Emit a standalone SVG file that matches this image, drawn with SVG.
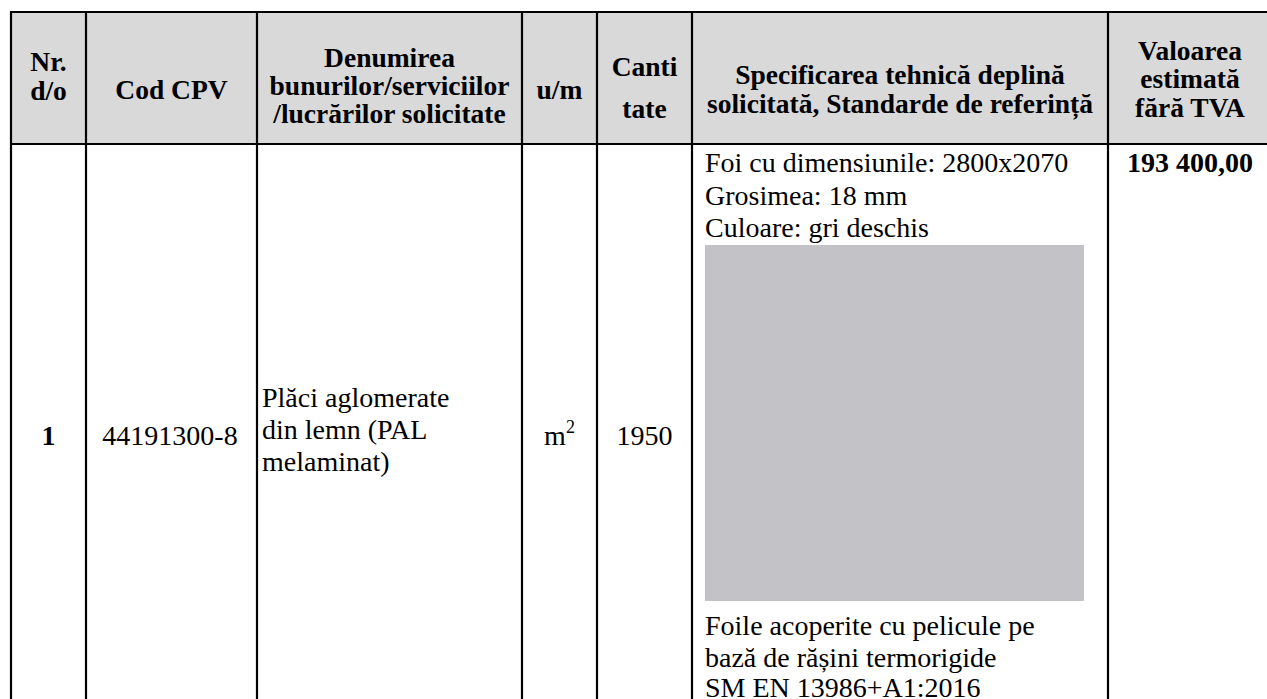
<svg xmlns="http://www.w3.org/2000/svg" width="1267" height="699" viewBox="0 0 1267 699">
<style>
text{font-family:"Liberation Serif","Times New Roman",serif;fill:#000}
.h{font-size:27.5px;font-weight:bold;text-anchor:middle}
.b{font-size:28px}
.c{text-anchor:middle}
.bold{font-weight:bold}
.grid line{stroke:#000;stroke-width:2.2}
</style>
<rect x="0" y="0" width="1267" height="699" fill="#fff"/>
<rect id="header-bg" x="11" y="12" width="1256" height="132" fill="#d9d9d9"/>
<rect id="swatch" x="705" y="245" width="379" height="356" fill="#c3c2c7"/>
<g id="grid" class="grid">
<line x1="11" y1="12" x2="1267" y2="12"/>
<line x1="11" y1="144" x2="1267" y2="144"/>
<line x1="11" y1="11" x2="11" y2="699"/>
<line x1="86" y1="11" x2="86" y2="699"/>
<line x1="257" y1="11" x2="257" y2="699"/>
<line x1="522" y1="11" x2="522" y2="699"/>
<line x1="597" y1="11" x2="597" y2="699"/>
<line x1="692" y1="11" x2="692" y2="699"/>
<line x1="1108" y1="11" x2="1108" y2="699"/>
</g>
<g id="h-nr"><text class="h" x="48.5" y="71">Nr.</text><text class="h" x="48.5" y="100">d/o</text></g>
<g id="h-cpv"><text class="h" x="171.5" y="99">Cod CPV</text></g>
<g id="h-den"><text class="h" x="389.5" y="67">Denumirea</text><text class="h" x="389.5" y="95">bunurilor/serviciilor</text><text class="h" x="389.5" y="123">/lucrărilor solicitate</text></g>
<g id="h-um"><text class="h" x="559.5" y="99">u/m</text></g>
<g id="h-cant"><text class="h" x="644.5" y="76">Canti</text><text class="h" x="644.5" y="118">tate</text></g>
<g id="h-spec"><text class="h" x="900" y="84">Specificarea tehnică deplină</text><text class="h" x="900" y="113">solicitată, Standarde de referință</text></g>
<g id="h-val"><text class="h" x="1190" y="60">Valoarea</text><text class="h" x="1190" y="88">estimată</text><text class="h" x="1190" y="117">fără TVA</text></g>
<g id="c-nr"><text class="b c bold" x="48.5" y="445">1</text></g>
<g id="c-cpv"><text class="b c" x="170" y="445">44191300-8</text></g>
<g id="c-den"><text class="b" x="262" y="407">Plăci aglomerate</text><text class="b" x="262" y="439">din lemn (PAL</text><text class="b" x="262" y="471">melaminat)</text></g>
<g id="c-um"><text class="b c" x="559.5" y="445">m<tspan font-size="18" dy="-12">2</tspan></text></g>
<g id="c-cant"><text class="b c" x="644.5" y="445">1950</text></g>
<g id="c-spec">
<text class="b" x="705" y="172">Foi cu dimensiunile: 2800x2070</text>
<text class="b" x="705" y="205">Grosimea: 18 mm</text>
<text class="b" x="705" y="237">Culoare: gri deschis</text>
<text class="b" x="705" y="635">Foile acoperite cu pelicule pe</text>
<text class="b" x="705" y="667">bază de rășini termorigide</text>
<text class="b" x="705" y="697">SM EN 13986+A1:2016</text>
</g>
<g id="c-val"><text class="b c bold" x="1190" y="172">193 400,00</text></g>
</svg>
